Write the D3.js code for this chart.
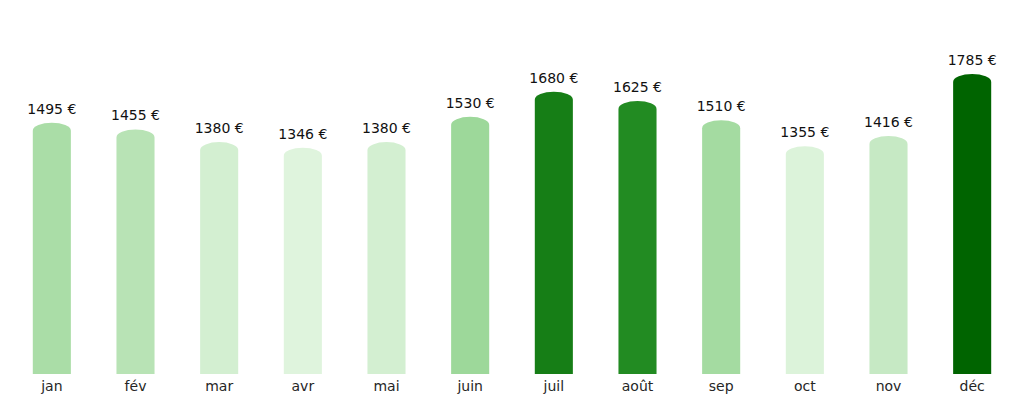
<!DOCTYPE html>
<html><head><meta charset="utf-8">
<script src="https://cdn.jsdelivr.net/npm/d3@7/dist/d3.min.js"></script>
<style>body{margin:0;background:#fff}svg{display:block}</style>
</head><body>
<svg id="c" width="1024" height="404"></svg>
<script>
const months = ["jan","fév","mar","avr","mai","juin","juil","août","sep","oct","nov","déc"];
const values = [1495,1455,1380,1346,1380,1530,1680,1625,1510,1355,1416,1785];

const svg = d3.select("#c");
const base = 374;
const x = d3.scaleBand().domain(months).range([10, 1014]).paddingInner(0.545).paddingOuter(0.2725);
const y = d3.scaleLinear().domain([0, 1785]).range([base, 74]);
const color = d3.scaleLinear().domain([1346, 1530, 1625, 1785])
  .range(["#dff4dd", "#9dd89a", "#228b22", "#006400"]);
const ry = 8;
const data = months.map((m, i) => ({m, v: values[i]}));

svg.selectAll("path.bar").data(data).join("path").attr("class","bar")
  .attr("fill", d => color(d.v))
  .attr("d", d => {
    const x0 = x(d.m), w = x.bandwidth(), t = y(d.v), rx = w / 2;
    return `M${x0},${base}L${x0},${t + ry}A${rx},${ry} 0 0 1 ${x0 + w},${t + ry}L${x0 + w},${base}Z`;
  });

svg.selectAll("text.val").data(data).join("text").attr("class","val")
  .attr("x", d => x(d.m) + x.bandwidth() / 2)
  .attr("y", d => y(d.v) - 9)
  .attr("text-anchor", "middle")
  .attr("font-family", "DejaVu Sans")
  .attr("font-size", 14)
  .attr("fill", "#111")
  .text(d => d.v + " €");

const ax = svg.append("g").attr("transform", `translate(0,${base})`)
  .call(d3.axisBottom(x).tickSize(0).tickPadding(7));
ax.select(".domain").remove();
ax.selectAll("text").attr("font-family", "DejaVu Sans").attr("font-size", 14).attr("fill", "#262626").attr("dy", "0.71em");
</script>
</body></html>
